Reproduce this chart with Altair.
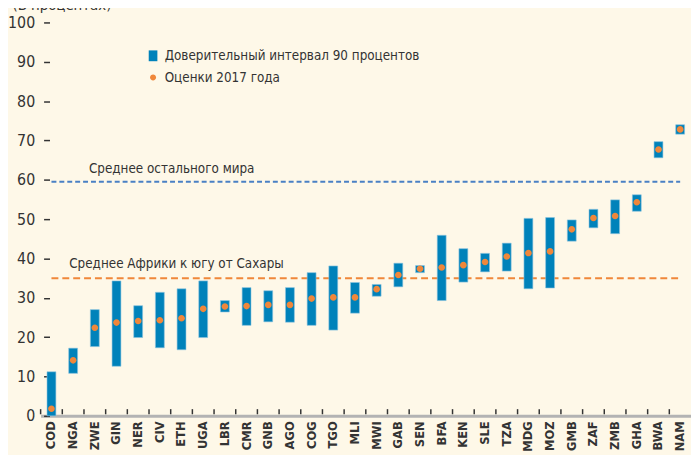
import altair as alt
import pandas as pd

countries = ["COD", "NGA", "ZWE", "GIN", "NER", "CIV", "ETH", "UGA", "LBR", "CMR",
             "GNB", "AGO", "COG", "TGO", "MLI", "MWI", "GAB", "SEN", "BFA", "KEN",
             "SLE", "TZA", "MDG", "MOZ", "GMB", "ZAF", "ZMB", "GHA", "BWA", "NAM"]
ci_low = [0.0, 10.8, 17.6, 12.6, 19.9, 17.3, 16.8, 19.9, 26.4, 23.0,
          23.9, 23.8, 23.0, 21.8, 26.1, 30.4, 32.8, 36.4, 29.3, 34.0,
          36.6, 36.8, 32.3, 32.5, 44.4, 47.8, 46.3, 52.0, 65.6, 71.6]
ci_high = [11.2, 17.2, 27.0, 34.3, 28.0, 31.4, 32.3, 34.3, 29.3, 32.6,
           31.8, 32.6, 36.4, 38.1, 33.9, 33.4, 38.8, 38.2, 45.9, 42.5,
           41.3, 43.9, 50.2, 50.4, 49.8, 52.5, 54.9, 56.2, 69.7, 74.0]
estimate_2017 = [1.8, 14.1, 22.4, 23.7, 24.1, 24.3, 24.8, 27.2, 27.8, 27.9,
                 28.2, 28.2, 29.8, 30.1, 30.1, 32.2, 35.8, 37.4, 37.7, 38.3,
                 39.1, 40.5, 41.4, 41.8, 47.4, 50.3, 50.8, 54.3, 67.7, 72.8]

series_names = ["Доверительный интервал 90 процентов", "Оценки 2017 года"]
ref_rest_of_world = 59.5
ref_ssa = 35.0
ref_labels = ["Среднее остального мира", "Среднее Африки к югу от Сахары"]
y_ticks = [0, 10, 20, 30, 40, 50, 60, 70, 80, 90, 100]

BG = "#fef8e8"
BLUE = "#0082ba"
ORANGE = "#f0873a"
LINE_BLUE = "#4a80c4"
TXT = "#333333"
NARROW = "DejaVu Sans Condensed, sans-serif"

df = pd.DataFrame({
    "country": countries,
    "low": ci_low,
    "high": ci_high,
    "est": estimate_2017,
    "s_bar": series_names[0],
    "s_pt": series_names[1],
})

rect_path = "M-0.8,-1H0.8V1H-0.8Z"
circ_path = "M0,-0.55A0.55,0.55 0 1 1 0,0.55A0.55,0.55 0 1 1 0,-0.55Z"

color_scale = alt.Scale(domain=series_names, range=[BLUE, ORANGE])
shape_scale = alt.Scale(domain=series_names, range=[rect_path, circ_path])

legend = alt.Legend(
    title=None, orient="none", legendX=107, legendY=27,
    labelFont=NARROW, labelFontSize=13.5, labelColor=TXT, labelOffset=5,
    labelLimit=0, symbolSize=120, symbolStrokeWidth=0, rowPadding=7, padding=0,
)

x_scale = alt.Scale(domain=countries, paddingInner=0, paddingOuter=0)
y_scale = alt.Scale(domain=[0, 100], nice=False)

y_axis = alt.Axis(
    values=y_ticks, grid=False, domain=False, offset=-9, tickSize=6,
    tickColor=TXT, tickWidth=1.5, labelPadding=9, labelFont=NARROW,
    labelFontSize=16, labelColor=TXT,
    title="(В процентах)", titleAngle=0, titleAlign="left",
    titleBaseline="alphabetic", titleX=-38, titleY=-13, titleFont=NARROW,
    titleFontSize=15, titleFontWeight="normal", titleColor=TXT,
)

x_axis = alt.Axis(
    title=None, labelAngle=-90, labelPadding=5, ticks=False,
    domainColor="#b3b3b3", domainWidth=3, labelFont=NARROW,
    labelFontSize=13, labelColor=TXT, labelFontWeight="bold",
)

bars = alt.Chart(df).mark_bar(size=9, stroke="#8fc6e0", strokeWidth=0.6).encode(
    x=alt.X("country:N", scale=x_scale, sort=countries, axis=x_axis),
    y=alt.Y("low:Q", scale=y_scale, axis=y_axis),
    y2="high:Q",
    color=alt.Color("s_bar:N", scale=color_scale, legend=legend),
)

# small upward tick marks at the category boundaries
cat_ticks = alt.Chart(df).mark_rule(color=TXT, strokeWidth=1.5).encode(
    x=alt.X("country:N", scale=x_scale, sort=countries, bandPosition=0, axis=x_axis),
    y=alt.Y(datum=0.4, scale=y_scale, axis=y_axis),
    y2=alt.Y2(datum=1.7),
)

points = alt.Chart(df).mark_point(filled=True, opacity=1, size=150).encode(
    x=alt.X("country:N", scale=x_scale, sort=countries, axis=x_axis),
    y=alt.Y("est:Q", scale=y_scale, axis=y_axis),
    color=alt.Color("s_pt:N", scale=color_scale, legend=legend),
    shape=alt.Shape("s_pt:N", scale=shape_scale, legend=legend),
)

ref_df = pd.DataFrame({
    "val": [ref_rest_of_world, ref_ssa],
    "label": ref_labels,
    "start": [countries[0], countries[0]],
    "end": [countries[-1], countries[-1]],
})

rule_blue = alt.Chart(ref_df.iloc[[0]]).mark_rule(
    color=LINE_BLUE, strokeWidth=2, strokeDash=[5, 3]
).encode(
    x=alt.X("start:N", scale=x_scale, axis=x_axis),
    x2="end:N",
    y=alt.Y("val:Q", scale=y_scale, axis=y_axis),
)

rule_orange = alt.Chart(ref_df.iloc[[1]]).mark_rule(
    color=ORANGE, strokeWidth=2, strokeDash=[7, 4]
).encode(
    x=alt.X("start:N", scale=x_scale, axis=x_axis),
    x2="end:N",
    y=alt.Y("val:Q", scale=y_scale, axis=y_axis),
)

text_blue = alt.Chart(ref_df.iloc[[0]]).mark_text(
    align="left", baseline="middle", dx=16, dy=-13,
    font=NARROW, fontSize=13.5, color=TXT,
).encode(
    x=alt.X(datum=countries[1], scale=x_scale, axis=x_axis),
    y=alt.Y("val:Q", scale=y_scale, axis=y_axis),
    text="label:N",
)

text_orange = alt.Chart(ref_df.iloc[[1]]).mark_text(
    align="left", baseline="middle", dx=18, dy=-14,
    font=NARROW, fontSize=13.5, color=TXT,
).encode(
    x=alt.X(datum=countries[0], scale=x_scale, axis=x_axis),
    y=alt.Y("val:Q", scale=y_scale, axis=y_axis),
    text="label:N",
)

chart = alt.layer(
    rule_blue, rule_orange, bars, cat_ticks, points, text_blue, text_orange
).properties(
    width=658, height=398,
    background=BG,
    autosize=alt.AutoSizeParams(type="none"),
    padding={"left": 33, "top": 12, "right": 0, "bottom": 37},
).configure_view(stroke=None)

chart.save("out.html", embed_options={"renderer": "svg", "actions": False})
